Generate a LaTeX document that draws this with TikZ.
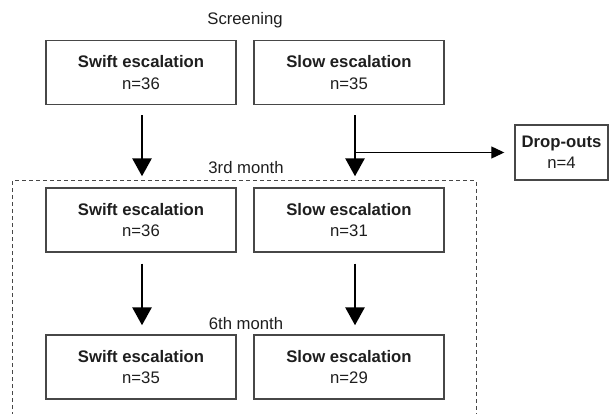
\documentclass[tikz,border=0pt]{standalone}
\usepackage{fontspec}
\setmainfont{Liberation Sans}
\usetikzlibrary{arrows.meta,calc}

\definecolor{boxline}{HTML}{474747}
\definecolor{txt}{HTML}{1E1E1E}

\tikzset{
  groupbox/.style={draw=boxline, line width=1.4pt, minimum width=190pt, minimum height=64pt,
    inner sep=0pt, align=center, text=txt, font=\fontsize{16.7}{21.5}\selectfont},
  dropbox/.style={groupbox, minimum width=93pt, minimum height=55pt},
  stagelabel/.style={text=txt, font=\fontsize{16.7}{20}\selectfont, inner sep=0pt},
  bigarrow/.style={line width=2.8pt, -{Triangle[width=19pt,length=18pt]}},
  smallarrow/.style={line width=1.2pt, -{Triangle[width=12pt,length=13pt]}},
  window/.style={draw=boxline, line width=1pt, dash pattern=on 4pt off 3pt}
}

\begin{document}
\begin{tikzpicture}[x=1pt,y=-1pt]
  \useasboundingbox (0,0) rectangle (610,414);

  % follow-up window (3rd to 6th month); its lower edge runs off the page
  \draw[window] (12,430) -- (12,181) -- (476,181) -- (476,430);

  % stage captions
  \node[stagelabel] (screen) at (245,20) {Screening};
  \node[stagelabel] (month3) at (246,168) {3rd month};
  \node[stagelabel] (month6) at (246,324) {6th month};

  % groups at screening
  \node[groupbox] (sw1) at (141,72.5) {\textbf{Swift escalation}\\n=36};
  \node[groupbox] (sl1) at (349,72.5) {\textbf{Slow escalation}\\n=35};

  % groups at 3rd month
  \node[groupbox] (sw2) at (141,220) {\textbf{Swift escalation}\\n=36};
  \node[groupbox] (sl2) at (349,220) {\textbf{Slow escalation}\\n=31};

  % groups at 6th month
  \node[groupbox] (sw3) at (141,367) {\textbf{Swift escalation}\\n=35};
  \node[groupbox] (sl3) at (349,367) {\textbf{Slow escalation}\\n=29};

  % drop-outs
  \node[dropbox] (drop) at (561.5,152.5) {\textbf{Drop-outs}\\n=4};

  % screening -> 3rd month
  \draw[bigarrow] ([xshift=1pt,yshift=-10pt]sw1.south) -- ([xshift=1pt,yshift=11pt]sw2.north);
  \draw[bigarrow] ([xshift=6pt,yshift=-10pt]sl1.south) -- ([xshift=6pt,yshift=11pt]sl2.north);

  % branch to drop-outs
  \coordinate (branch) at ([xshift=6pt]sl1.south |- drop.west);
  \draw[smallarrow] (branch) -- ([xshift=-10pt]drop.west);

  % 3rd month -> 6th month
  \draw[bigarrow] ([xshift=1pt,yshift=-11pt]sw2.south) -- ([xshift=1pt,yshift=9pt]sw3.north);
  \draw[bigarrow] ([xshift=6pt,yshift=-11pt]sl2.south) -- ([xshift=6pt,yshift=9pt]sl3.north);
\end{tikzpicture}
\end{document}
